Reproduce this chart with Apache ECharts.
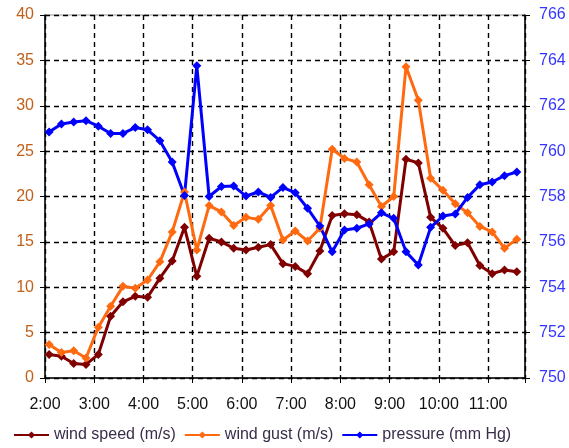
<!DOCTYPE html>
<html>
<head>
<meta charset="utf-8">
<script src="https://cdn.jsdelivr.net/npm/echarts@6/dist/echarts.min.js"></script>
<style>
html,body{margin:0;padding:0;background:#fff;}
#chart{width:569px;height:448px;}
</style>
</head>
<body>
<div id="chart"></div>
<script>
// Observation times (every 15 minutes)
var times = ['2:05','2:20','2:35','2:50','3:05','3:20','3:35','3:50','4:05','4:20',
             '4:35','4:50','5:05','5:20','5:35','5:50','6:05','6:20','6:35','6:50',
             '7:05','7:20','7:35','7:50','8:05','8:20','8:35','8:50','9:05','9:20',
             '9:35','9:50','10:05','10:20','10:35','10:50','11:05','11:20','11:35'];
var windSpeed = [2.6,2.4,1.6,1.5,2.6,6.8,8.4,9.0,8.9,11.0,
                 12.9,16.6,11.2,15.4,15.0,14.3,14.1,14.4,14.7,12.6,
                 12.3,11.5,14.0,17.9,18.1,18.0,17.2,13.1,13.9,24.1,
                 23.7,17.7,16.5,14.6,14.9,12.4,11.5,11.9,11.7];
var windGust = [3.7,2.8,3.0,2.2,5.6,7.9,10.1,9.9,10.8,12.8,
                16.1,20.5,14.1,19.0,18.3,16.8,17.7,17.5,19.0,15.2,
                16.2,15.1,16.5,25.2,24.2,23.8,21.3,18.9,20.0,34.3,
                30.6,22.0,20.7,19.2,18.2,16.7,16.1,14.3,15.3];
var pressure = [760.84,761.2,761.28,761.34,761.1,760.78,760.78,761.04,760.94,760.46,
                759.52,758.04,763.76,758.0,758.44,758.46,758.02,758.2,757.96,758.4,
                758.16,757.48,756.7,755.56,756.52,756.6,756.79,757.28,757.04,755.56,
                754.98,756.64,757.14,757.23,757.96,758.52,758.64,758.92,759.08];
var hourLabels = ['2:00','3:00','4:00','5:00','6:00','7:00','8:00','9:00','10:00','11:00'];
var leftTicks = {min:0, max:40, interval:5};
var rightTicks = {min:750, max:766, interval:2};
var xStart = '2:00', xEnd = '11:45';

function toMin(s){ var p = s.split(':'); return (+p[0])*60 + (+p[1]); }
var t0 = toMin(xStart);
function pairs(arr){ return times.map(function(t,i){ return [toMin(t)-t0, arr[i]]; }); }

var font = "'Liberation Sans', Arial, sans-serif";
var dash = {color:'#000', width:1.4, type:[5,4]};
var chart = echarts.init(document.getElementById('chart'), null, {renderer:'canvas'});
chart.setOption({
  animation:false,
  backgroundColor:'#fff',
  grid:{left:45, right:44, top:15, bottom:70, show:true, borderColor:'#999', borderWidth:1},
  legend:{
    left:8, top:422, itemWidth:35, itemHeight:9, itemGap:8,
    textStyle:{fontFamily:font, fontSize:16, color:'#3a2d4a'},
    data:['wind speed (m/s)','wind gust (m/s)','pressure (mm Hg)']
  },
  xAxis:{
    type:'value', min:0, max:toMin(xEnd)-t0, interval:60,
    axisLine:{lineStyle:{color:'#000', width:1.5}},
    axisTick:{length:5, lineStyle:{color:'#000'}},
    axisLabel:{margin:19, fontFamily:font, fontSize:16, color:'#111',
      formatter:function(v){ return (v%60===0) ? hourLabels[v/60] : ''; }},
    splitLine:{show:true, lineStyle:dash}
  },
  yAxis:[{
    type:'value', min:leftTicks.min, max:leftTicks.max, interval:leftTicks.interval,
    axisLine:{show:true, lineStyle:{color:'#000', width:1.5}},
    axisTick:{show:true, length:5, lineStyle:{color:'#000'}},
    axisLabel:{margin:11, fontFamily:font, fontSize:16, color:'#c0601a'},
    splitLine:{show:true, lineStyle:dash}
  },{
    type:'value', min:rightTicks.min, max:rightTicks.max, interval:rightTicks.interval,
    position:'right',
    axisLine:{show:true, lineStyle:{color:'#000', width:1.5}},
    axisTick:{show:true, length:5, lineStyle:{color:'#000'}},
    axisLabel:{margin:14, fontFamily:font, fontSize:16, color:'#3535ff'},
    splitLine:{show:false}
  }],
  series:[{
    name:'wind speed (m/s)', type:'line', yAxisIndex:0, data:pairs(windSpeed),
    symbol:'diamond', symbolSize:9, showAllSymbol:true,
    lineStyle:{color:'#800000', width:3}, itemStyle:{color:'#800000'}
  },{
    name:'wind gust (m/s)', type:'line', yAxisIndex:0, data:pairs(windGust),
    symbol:'diamond', symbolSize:9, showAllSymbol:true,
    lineStyle:{color:'#ff6a10', width:3}, itemStyle:{color:'#ff6a10'}
  },{
    name:'pressure (mm Hg)', type:'line', yAxisIndex:1, data:pairs(pressure),
    symbol:'diamond', symbolSize:9, showAllSymbol:true,
    lineStyle:{color:'#0000ff', width:3}, itemStyle:{color:'#0000ff'}
  }]
});
</script>
</body>
</html>
